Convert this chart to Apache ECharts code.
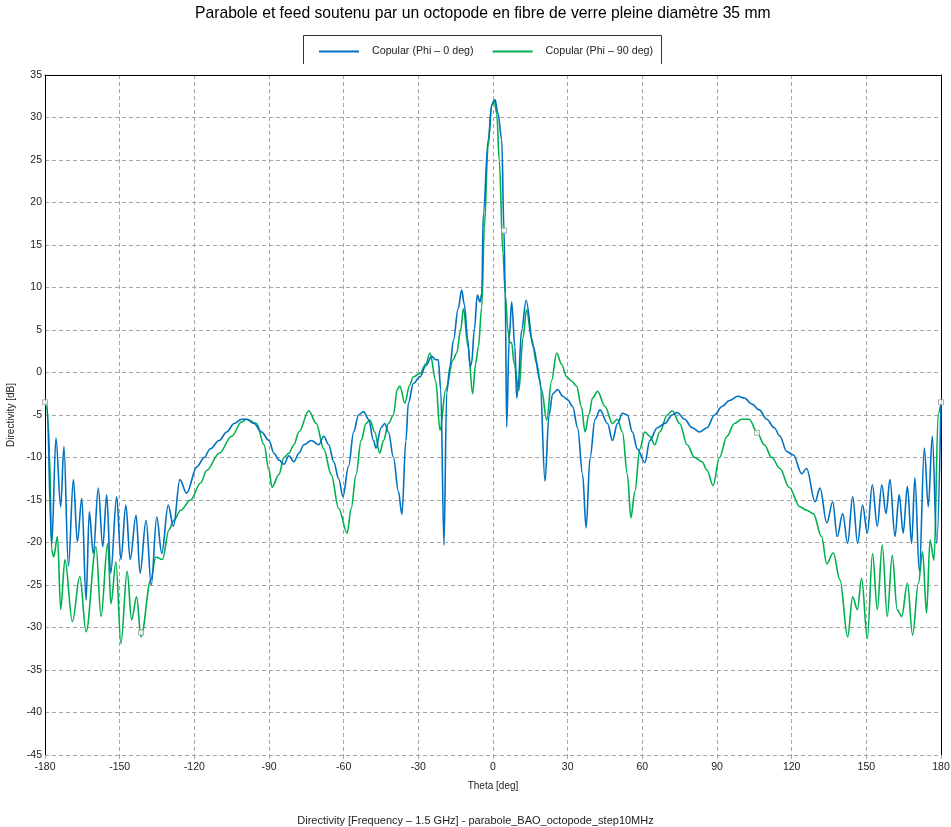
<!DOCTYPE html>
<html>
<head>
<meta charset="utf-8">
<script src="https://cdn.jsdelivr.net/npm/echarts@6/dist/echarts.min.js"></script>
<style>html,body{margin:0;padding:0;background:#fff}#c{width:951px;height:827px}</style>
</head>
<body>
<div id="c"></div>
<script>
const titleText = "Parabole et feed soutenu par un octopode en fibre de verre pleine diamètre 35 mm";
const footerText = "Directivity [Frequency – 1.5 GHz] - parabole_BAO_octopode_step10MHz";
const seriesNames = ["Copular (Phi – 0 deg)", "Copular (Phi – 90 deg)"];
const xTicks = { min: -180, max: 180, interval: 30 };
const yTicks = { min: -45, max: 35, interval: 5 };

// Phi = 0 deg  [theta, directivity dB]
const phi0 = [
[-180,-3.5],[-179.3,-3.6],[-177.3,-20.2],[-175.6,-7.7],[-173.7,-15.8],[-172.4,-8.7],[-170.6,-22.8],[-168.6,-12.6],[-167.0,-19.9],[-165.2,-14.8],[-163.5,-26.8],[-162.2,-16.4],[-160.6,-21.3],[-158.6,-13.6],[-156.8,-20.5],[-155.2,-14.4],[-153.6,-23.6],[-151.2,-14.6],[-149.5,-22],[-147.5,-15.6],[-145.8,-22],[-143.4,-16.8],[-141.8,-23.6],[-139.4,-17.4],[-137.3,-25],[-135.1,-17],[-133.1,-21.3],[-130.5,-15.6],[-128.4,-18.1],[-125.8,-12.6],[-123.1,-14.2],[-119,-11.1],[-116,-10],[-113.7,-9],[-110,-8],[-107,-7],[-104,-6],[-101,-5.5],[-99,-5.5],[-96,-6],[-93,-7],[-90,-8],[-88,-9.5],[-86,-10.3],[-84,-10.8],[-82,-9.8],[-80,-10.5],[-78,-9.5],[-76,-8.5],[-73,-8],[-70,-8.5],[-68,-7.5],[-66,-8.5],[-64,-10.5],[-62,-12.5],[-60.3,-14.6],[-58,-11],[-56,-7],[-54,-5],[-52,-4.6],[-50,-5.5],[-48,-8],[-47,-8.9],[-45,-6.5],[-43.5,-6],[-42,-7],[-40,-10],[-38,-14],[-36.6,-16.7],[-35,-8],[-34,-3.6],[-32,-1.3],[-29.3,-0.5],[-27,0.8],[-24.6,1.9],[-23,1.5],[-22,1.5],[-21,-2],[-19.7,-20.3],[-18.6,-2.4],[-17.3,0.7],[-15.9,3.8],[-14,7.5],[-12.6,9.7],[-11.5,8],[-10.2,4],[-9.2,0.7],[-8.6,1.1],[-7.5,5],[-6.3,9.1],[-5.2,8.3],[-4.5,9.3],[-3.9,18.7],[-1.9,27.4],[-0.5,31.5],[0.8,32.1],[2,30.5],[3.5,27.4],[4.4,16.8],[4.9,9.3],[5.5,-6.4],[6.5,4],[7.5,8.3],[8.8,3],[9.5,-3],[10,-2],[11.5,5],[13.3,8.5],[16.2,3],[18.9,-0.9],[20.9,-12.8],[22.5,-5],[24,-2.5],[26,-2],[28,-2.8],[30,-3.2],[32,-4],[34,-6.5],[36,-12],[37.4,-18.3],[39,-10],[41,-5.5],[43,-4.4],[46,-6],[48,-8],[50,-6],[52,-4.8],[54,-5],[56,-7],[58,-9],[61,-10.6],[63,-8],[66,-6.5],[69,-6],[72,-5],[74,-4.7],[77,-5.5],[80,-6.5],[83,-7],[86,-6.5],[89,-5],[92,-4],[95,-3.3],[98.4,-2.8],[101,-3],[104,-3.7],[107,-4.4],[110,-5.5],[113,-6.5],[115.3,-7.5],[118,-9.3],[120.7,-9.7],[124,-11.9],[126,-11.3],[129.4,-15.2],[131.4,-13.6],[134.1,-17.7],[136.5,-15.2],[138.3,-19.3],[140.5,-16.6],[142.5,-20.1],[144.5,-14.6],[146.5,-20.1],[148.5,-15.6],[150.4,-18.9],[152.4,-13.2],[154.4,-18.1],[156.2,-13.2],[157.9,-16.6],[159.5,-12.6],[161.5,-19.3],[163.2,-14.4],[164.8,-18.9],[166.5,-13.4],[168.2,-20.1],[169.5,-12.4],[171.3,-23.4],[173.3,-8.9],[174.9,-15.8],[176.5,-7.5],[178.3,-20.1],[180,-3.5]
];

// Phi = 90 deg  [theta, directivity dB]
const phi90 = [
[-180,-3.6],[-179.3,-4],[-178.6,-6.4],[-178.2,-9.5],[-177.3,-20.9],[-176.5,-21.7],[-175,-19.3],[-173.7,-27.9],[-172,-22],[-169,-29.3],[-166,-24],[-163.5,-30.5],[-159.5,-20.5],[-157.5,-28.7],[-154.8,-20.1],[-153.5,-27.2],[-151.5,-22.3],[-149.5,-31.9],[-147,-23.4],[-145.2,-29.1],[-143.2,-26.4],[-141.4,-31.1],[-137.5,-24.4],[-135.5,-21.7],[-132.8,-22],[-130.2,-18.5],[-128.2,-17.4],[-125.5,-16.2],[-121.5,-15],[-117.5,-13],[-115,-11.5],[-110,-9.5],[-105,-7.5],[-101,-5.8],[-99,-5.5],[-95,-6],[-92,-8.5],[-90,-11.5],[-88.8,-13.5],[-86,-12],[-84,-10],[-82,-9.5],[-80,-8.5],[-78,-7],[-74,-4.5],[-71,-6],[-68,-9],[-65,-12],[-62,-16],[-58.6,-18.9],[-57,-16],[-55,-12],[-53,-8],[-51,-6],[-49.5,-5.6],[-47.5,-7],[-45.5,-9.5],[-44,-8],[-42,-6],[-40,-5],[-38.5,-2],[-37.4,-1.6],[-35.4,-3.6],[-33.5,-1.5],[-32,-0.5],[-29.3,-0.1],[-27,1],[-25.3,2.3],[-23,-1],[-21.3,-6.8],[-19,-2],[-16,1.5],[-14.6,2.3],[-13,5],[-11.9,7.5],[-10,3],[-8.2,-2.5],[-7,1],[-5.9,3],[-4.5,7.7],[-3.5,17],[-2,26.5],[-0.5,31.5],[0.5,32],[1.5,30.5],[2.5,25],[4,14],[5,9],[6,5],[6.8,3.5],[7.5,3.5],[8.5,1],[10.4,-2.1],[12,4],[13.5,7.4],[15.5,4],[17.5,1.1],[19.5,-2],[21.6,-5.6],[23.5,-1],[25.6,2.3],[27.5,1],[29.6,-0.5],[31.5,-1],[33.6,-1.6],[35.5,-4],[37,-7],[38.5,-5],[40,-3],[42,-2.2],[45,-4],[48,-6],[50,-5.5],[52,-7],[54,-12],[55.4,-17.1],[57,-14],[59,-9],[61,-7],[63,-7.5],[65,-8.5],[67,-7],[70,-5],[72,-4.5],[75,-6],[78,-8.5],[81,-10],[84,-10.5],[86,-11.5],[88.4,-13.3],[91,-10],[94,-7.5],[97,-6],[100,-5.5],[103,-5.5],[106,-7],[109,-8.5],[112,-10],[115.3,-11.3],[119,-13.5],[123.3,-15.8],[126,-16.2],[128.7,-16.6],[132,-19.3],[134.1,-22.5],[136.7,-21.2],[139.4,-24.4],[142.5,-31.1],[144.5,-26.4],[146.4,-27.9],[148.1,-24.2],[150.4,-31.3],[152.5,-21.3],[154.4,-27.9],[156.4,-20.3],[158.4,-28.7],[160.4,-21.5],[162.4,-27.9],[164.2,-28.7],[166.5,-24.8],[168.6,-30.9],[170.9,-24.8],[172.6,-21.1],[174.2,-28.3],[175.6,-19.7],[177.2,-22.1],[178.9,-4.8],[180,-3.6]
];

// small square markers on the curves
const markers = [[-180,-3.5],[4.4,16.7],[-141.4,-30.6],[106.1,-7.1],[180,-3.5]];

const FONT = "'Liberation Sans', Arial, sans-serif";
const chart = echarts.init(document.getElementById('c'), null, {renderer:'canvas'});
const gridDash = {color:'#a6a6a6', type:[4,3], width:1};
chart.setOption({
  animation:false,
  backgroundColor:'#fff',
  textStyle:{fontFamily:FONT},
  title:[
    {text:titleText, left:195, top:6, padding:0, textStyle:{fontSize:15.7, fontWeight:'normal', color:'#000', fontFamily:FONT}},
    {text:footerText, left:'center', top:810, textStyle:{fontSize:11, fontWeight:'normal', color:'#222', fontFamily:FONT}}
  ],
  legend:{
    data:seriesNames, left:319, top:46, padding:0, icon:'rect', itemWidth:40, itemHeight:2, itemGap:19,
    textStyle:{fontSize:10.7, color:'#222', fontFamily:FONT, padding:[0,0,0,8]}
  },
  grid:{left:45, right:10, top:75, bottom:72, containLabel:false, outerBoundsMode:'none'},
  xAxis:[
    {type:'value', min:xTicks.min, max:xTicks.max, interval:xTicks.interval, position:'bottom',
     name:'Theta [deg]', nameLocation:'middle', nameGap:26,
     nameTextStyle:{fontSize:10, color:'#222', fontFamily:FONT},
     axisLine:{show:false, onZero:false}, axisTick:{show:true, length:5, lineStyle:{color:'#a6a6a6', type:[4,3]}},
     axisLabel:{fontSize:10.5, color:'#222', margin:7, fontFamily:FONT},
     splitLine:{show:true, lineStyle:gridDash}},
    {type:'value', min:xTicks.min, max:xTicks.max, position:'top',
     axisLine:{show:true, onZero:false, lineStyle:{color:'#000', width:1}}, axisTick:{show:false}, axisLabel:{show:false}, splitLine:{show:false}}
  ],
  yAxis:[
    {type:'value', min:yTicks.min, max:yTicks.max, interval:yTicks.interval, position:'left',
     name:'Directivity [dB]', nameLocation:'middle', nameGap:17,
     nameTextStyle:{fontSize:10, color:'#222', fontFamily:FONT},
     axisLine:{show:true, onZero:false, lineStyle:{color:'#000', width:1}}, axisTick:{show:false},
     axisLabel:{fontSize:10.5, color:'#222', margin:3, fontFamily:FONT},
     splitLine:{show:true, lineStyle:gridDash}},
    {type:'value', min:yTicks.min, max:yTicks.max, position:'right',
     axisLine:{show:true, onZero:false, lineStyle:{color:'#000', width:1}}, axisTick:{show:false}, axisLabel:{show:false}, splitLine:{show:false}}
  ],
  graphic:[
    {type:'polyline', shape:{points:[[303.5,64],[303.5,35.5],[661.5,35.5],[661.5,64]]}, style:{stroke:'#333', lineWidth:1, fill:null}, silent:true}
  ],
  series:[
    {name:seriesNames[1], type:'line', data:phi90, showSymbol:false, smooth:0.35, smoothMonotone:'x',
     lineStyle:{color:'#00B050', width:1.6}, itemStyle:{color:'#00B050'}, z:2},
    {name:seriesNames[0], type:'line', data:phi0, showSymbol:false, smooth:0.35, smoothMonotone:'x',
     lineStyle:{color:'#0070C0', width:1.6}, itemStyle:{color:'#0070C0'}, z:3},
    {name:'markers', type:'scatter', data:markers, symbol:'rect', symbolSize:5,
     itemStyle:{color:'#fff', borderColor:'#999', borderWidth:1}, z:5, silent:true}
  ]
});
</script>
</body>
</html>
